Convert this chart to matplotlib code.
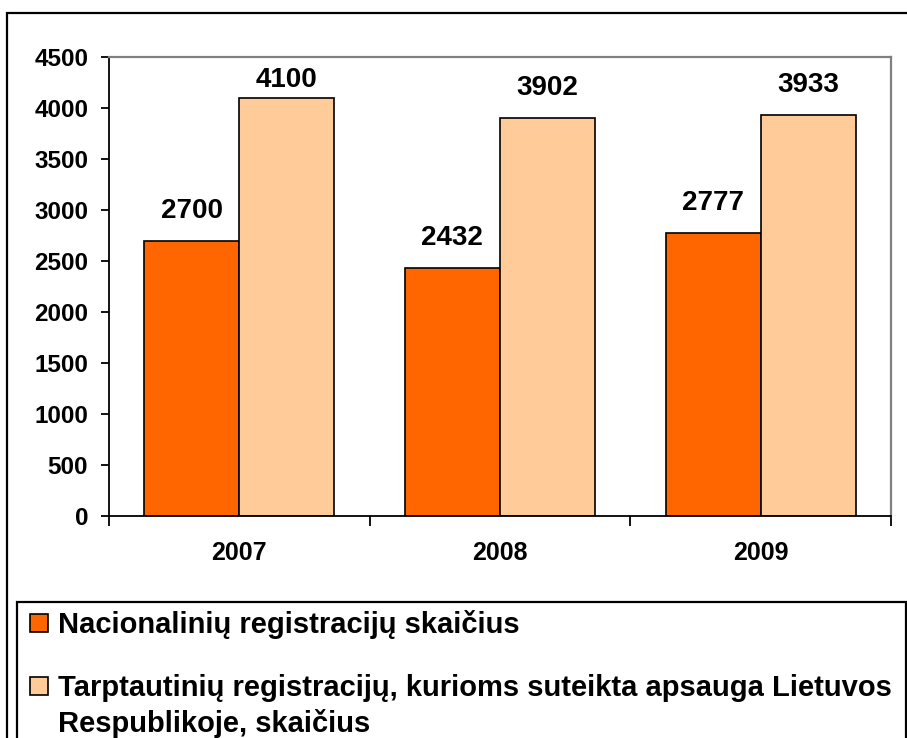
import numpy as np
import matplotlib.pyplot as plt
from matplotlib.patches import Rectangle

#===========================================
# Data
years = ["2007", "2008", "2009"]
national = [2700, 2432, 2777]
international = [4100, 3902, 3933]
series_names = ["Nacionalinių registracijų skaičius",
                "Tarptautinių registracijų, kurioms suteikta apsauga Lietuvos\nRespublikoje, skaičius"]
series_colors = ["#FF6600", "#FFCC99"]
yticks = np.arange(0, 4501, 500)
#===========================================

plt.rcParams['font.family'] = ['Liberation Sans', 'DejaVu Sans']
plt.rcParams['font.weight'] = 'bold'

W, H = 907, 738
fig = plt.figure(figsize=(W / 100, H / 100), dpi=100)

def px(x0, y0, x1, y1):
    # pixel box (top-left origin) -> figure fraction [l, b, w, h]
    return [x0 / W, 1 - y1 / H, (x1 - x0) / W, (y1 - y0) / H]

# outer chart border
l, b, w, h = px(7, 13, 915, 745)
fig.patches.append(Rectangle((l, b), w, h, transform=fig.transFigure,
                             fill=False, edgecolor='black', linewidth=1.6))

ax = fig.add_axes(px(109, 57, 891, 516))
x = np.arange(len(years))
bw = 0.365
ax.bar(x - bw / 2, national, bw, color=series_colors[0], edgecolor='black', linewidth=1.2)
ax.bar(x + bw / 2, international, bw, color=series_colors[1], edgecolor='black', linewidth=1.2)

# value labels: ~23 px above bar, but kept inside the plot area (like Excel does)
ymax = 4500
unit_per_px = ymax / 459.0
def label_y(v):
    return min(v + 23 * unit_per_px, ymax - 30 * unit_per_px)

for xs, vals in [(x - bw / 2, national), (x + bw / 2, international)]:
    for xi, v in zip(xs, vals):
        ax.text(xi, label_y(v), str(v), ha='center', va='baseline',
                fontsize=20, fontweight='bold')

ax.set_xlim(-0.5, len(years) - 0.5)
ax.set_ylim(0, ymax)
ax.set_yticks(yticks)
ax.set_yticklabels([str(t) for t in yticks], fontsize=17.5, fontweight='bold')
ax.set_xticks(x)
ax.set_xticklabels(years, fontsize=18, fontweight='bold')
ax.set_xticks(np.arange(-0.5, len(years)), minor=True)
ax.tick_params(axis='x', which='major', length=0, pad=18)
ax.tick_params(axis='x', which='minor', length=7, width=1.3, direction='out')
ax.tick_params(axis='y', length=6, width=1.3, pad=9)

for side in ['top', 'right']:
    ax.spines[side].set_color('#808080')
    ax.spines[side].set_linewidth(1.6)
for side in ['left', 'bottom']:
    ax.spines[side].set_color('black')
    ax.spines[side].set_linewidth(1.3)

# legend box
l, b, w, h = px(17, 602, 906, 760)
fig.patches.append(Rectangle((l, b), w, h, transform=fig.transFigure,
                             fill=False, edgecolor='black', linewidth=1.6))
entry_base = [633, 696]
line_step = 36
for name, color, yy in zip(series_names, series_colors, entry_base):
    sl, sb, sw, sh = px(30, yy - 19, 48, yy - 1)
    fig.patches.append(Rectangle((sl, sb), sw, sh, transform=fig.transFigure,
                                 facecolor=color, edgecolor='black', linewidth=1.2))
    for k, line in enumerate(name.split("\n")):
        fig.text(58 / W, 1 - (yy + k * line_step) / H, line, ha='left', va='baseline',
                 fontsize=21, fontweight='bold')

fig.savefig("out.png", dpi=100)
